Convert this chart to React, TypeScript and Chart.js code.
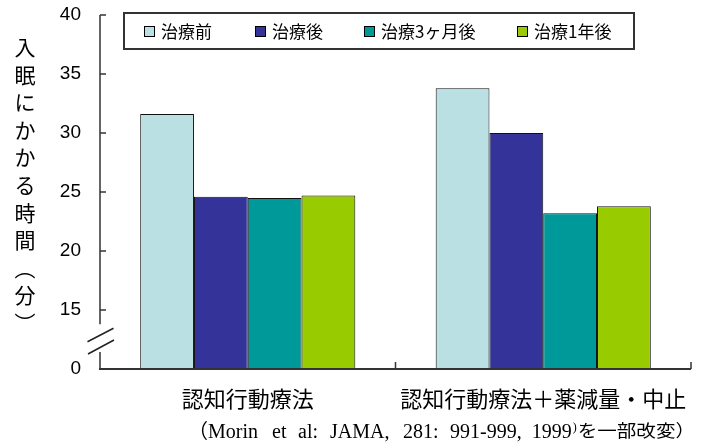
import React, { useEffect, useRef } from "react";
import { Chart, registerables } from "chart.js";

Chart.register(...registerables);

const categories = ["認知行動療法", "認知行動療法＋薬減量・中止"];
const seriesLabels = ["治療前", "治療後", "治療3ヶ月後", "治療1年後"];
const beforeTreatment = [31.6, 33.8];
const afterTreatment = [24.6, 30.0];
const after3Months = [24.5, 23.2];
const after1Year = [24.7, 23.8];
const yTickValues = [10, 15, 20, 25, 30, 35, 40];
const yTickLabels = ["0", "15", "20", "25", "30", "35", "40"];
const yAxisTitleChars = ["入", "眠", "に", "か", "か", "る", "時", "間", "︵", "分", "︶"];
const footnoteOpen = "（";
const footnoteWords = ["Morin", "et", "al:", "JAMA,", "281:", "991-999,", "1999"];
const footnoteSup = ")";
const footnoteTail = "を一部改変）";
const seriesColors = ["#BBE0E3", "#333399", "#009999", "#99CC00"];

const JP = "'Noto Sans CJK JP', 'Noto Sans', sans-serif";
const NUM = "'Liberation Sans', Arial, sans-serif";
const SERIF = "'Liberation Serif', 'DejaVu Serif', 'Noto Sans CJK JP', serif";

const decorPlugin = {
  id: "decor",
  afterDraw(chart: any) {
    const { ctx, chartArea: a, scales } = chart;
    const xs = scales.x;
    const ys = scales.y;
    const py = (v: number) => ys.getPixelForValue(v);
    ctx.save();
    ctx.strokeStyle = "#333";
    ctx.lineCap = "butt";

    // x axis line
    const y0 = py(yTickValues[0]);
    ctx.lineWidth = 2;
    ctx.beginPath();
    ctx.moveTo(a.left - 1, y0);
    ctx.lineTo(a.right, y0);
    ctx.stroke();

    // x ticks at category boundaries (inward)
    const half = (xs.getPixelForValue(1) - xs.getPixelForValue(0)) / 2;
    ctx.lineWidth = 1.5;
    for (let i = 1; i <= categories.length; i++) {
      const bx = xs.getPixelForValue(i - 1) + half;
      ctx.beginPath();
      ctx.moveTo(bx, y0);
      ctx.lineTo(bx, y0 - 7);
      ctx.stroke();
    }

    // y axis line with break gap
    ctx.lineWidth = 1.5;
    ctx.beginPath();
    ctx.moveTo(a.left, py(40));
    ctx.lineTo(a.left, py(13.8));
    ctx.moveTo(a.left, py(11.45));
    ctx.lineTo(a.left, y0);
    ctx.stroke();

    // y ticks inward
    for (const v of yTickValues.slice(1)) {
      ctx.beginPath();
      ctx.moveTo(a.left, py(v));
      ctx.lineTo(a.left + 6, py(v));
      ctx.stroke();
    }

    // break marks
    ctx.strokeStyle = "#222";
    ctx.lineWidth = 1.5;
    ctx.beginPath();
    ctx.moveTo(a.left - 12.5, py(12.31));
    ctx.lineTo(a.left + 13.5, py(13.45));
    ctx.moveTo(a.left - 12, py(11.27));
    ctx.lineTo(a.left + 14, py(12.46));
    ctx.stroke();

    // legend
    ctx.strokeStyle = "#333";
    ctx.lineWidth = 2;
    ctx.strokeRect(124, 13, 510, 36);
    const sqX = [144, 255, 364, 517];
    ctx.font = `17px ${JP}`;
    ctx.textBaseline = "middle";
    ctx.textAlign = "left";
    chart.data.datasets.forEach((ds: any, i: number) => {
      ctx.fillStyle = ds.backgroundColor;
      ctx.fillRect(sqX[i], 26, 10, 10);
      ctx.strokeStyle = "#000";
      ctx.lineWidth = 1;
      ctx.strokeRect(sqX[i] + 0.5, 26.5, 10, 10);
      ctx.fillStyle = "#000";
      ctx.fillText(ds.label, sqX[i] + 17, 31.5);
    });

    // vertical y-axis title
    ctx.font = `21px ${JP}`;
    ctx.textAlign = "center";
    ctx.textBaseline = "middle";
    ctx.fillStyle = "#000";
    yAxisTitleChars.forEach((c, i) => {
      ctx.fillText(c, 25, 47 + i * 27.6);
    });

    // footnote (word-spaced like the original)
    ctx.textBaseline = "alphabetic";
    ctx.textAlign = "left";
    const fy = 438;
    ctx.font = `20px ${JP}`;
    ctx.fillText(footnoteOpen, 188, fy);
    const wordStarts = [208, 272, 298, 330, 403, 450, 0];
    ctx.font = `20px ${SERIF}`;
    let fx = 0;
    footnoteWords.forEach((w, i) => {
      const sx = wordStarts[i] || fx + 10;
      ctx.fillText(w, sx, fy);
      fx = sx + ctx.measureText(w).width;
    });
    ctx.font = `12px ${SERIF}`;
    ctx.fillText(footnoteSup, fx + 1, fy - 7);
    fx += 1 + ctx.measureText(footnoteSup).width + 1;
    ctx.font = `17px ${JP}`;
    const tw = ctx.measureText(footnoteTail).width;
    ctx.save();
    ctx.translate(fx, fy - 1);
    ctx.scale((695 - fx) / tw, 1);
    ctx.fillText(footnoteTail, 0, 0);
    ctx.restore();

    ctx.restore();
  },
};

export default function App() {
  const ref = useRef<HTMLCanvasElement | null>(null);
  useEffect(() => {
    if (!ref.current) return;
    const dataArrays = [beforeTreatment, afterTreatment, after3Months, after1Year];
    const chart = new Chart(ref.current, {
      type: "bar",
      data: {
        labels: categories,
        datasets: seriesLabels.map((label, i) => ({
          label,
          data: dataArrays[i],
          backgroundColor: seriesColors[i],
          borderColor: "#111",
          borderWidth: 1,
          barPercentage: 1,
          categoryPercentage: 0.728,
        })),
      },
      options: {
        responsive: false,
        animation: false,
        layout: { padding: { top: 15, right: 11, left: 0, bottom: 0 } },
        plugins: {
          legend: { display: false },
          tooltip: { enabled: false },
          title: { display: false },
        },
        scales: {
          x: {
            grid: { display: false, drawTicks: false },
            border: { display: false },
            ticks: {
              color: "#000",
              font: { family: JP, size: 22 },
              padding: 16,
              maxRotation: 0,
              autoSkip: false,
            },
            afterFit: (s: any) => {
              s.height = 74;
              s.paddingLeft = 0;
              s.paddingRight = 0;
              s.paddingTop = 0;
              s.paddingBottom = 0;
            },
          },
          y: {
            min: 10,
            max: 40,
            grid: { display: false, drawTicks: false },
            border: { display: false },
            afterBuildTicks: (s: any) => {
              s.ticks = yTickValues.map((v) => ({ value: v }));
            },
            ticks: {
              color: "#000",
              font: { family: NUM, size: 19 },
              padding: 19,
              callback: (v: any) => {
                const idx = yTickValues.indexOf(Number(v));
                return idx >= 0 ? yTickLabels[idx] : "";
              },
            },
            afterFit: (s: any) => {
              s.width = 100;
              s.paddingTop = 0;
              s.paddingBottom = 0;
              s.paddingLeft = 0;
              s.paddingRight = 0;
            },
          },
        },
      },
      plugins: [decorPlugin],
    });
    return () => chart.destroy();
  }, []);
  return (
    <div style={{ position: "absolute", left: 0, top: 0, width: 702, height: 443, background: "#fff" }}>
      <canvas ref={ref} width={702} height={443} />
    </div>
  );
}
